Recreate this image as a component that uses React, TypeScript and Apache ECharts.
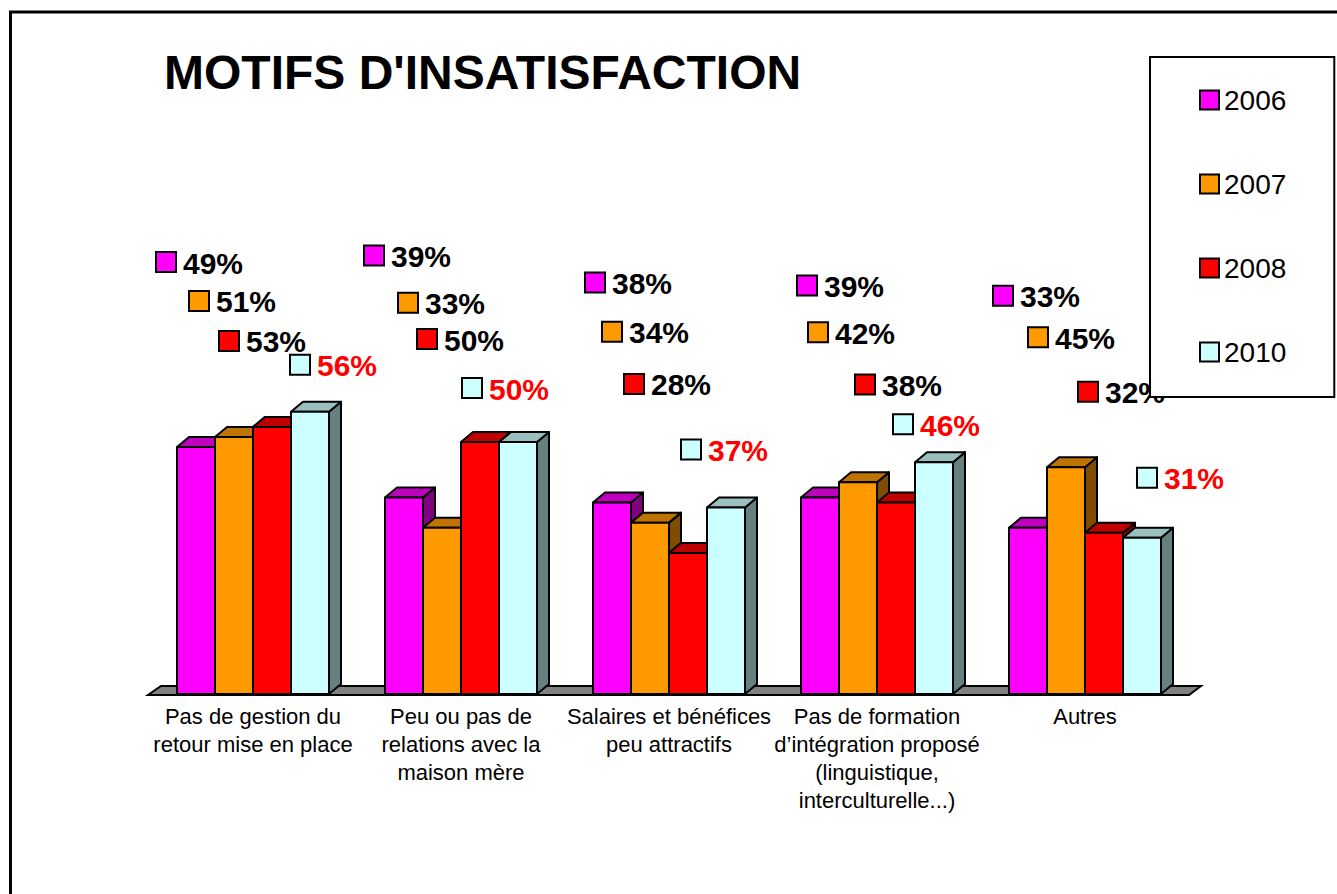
import React, { useEffect, useRef } from "react";
import * as echarts from "echarts";

const FONT = '"Liberation Sans", Arial, Helvetica, sans-serif';

const TITLE = "MOTIFS D'INSATISFACTION";
const CATEGORIES = [
  "Pas de gestion du\nretour mise en place",
  "Peu ou pas de\nrelations avec la\nmaison mère",
  "Salaires et bénéfices\npeu attractifs",
  "Pas de formation\nd’intégration proposé\n(linguistique,\ninterculturelle...)",
  "Autres",
];
const YEARS = ["2006", "2007", "2008", "2010"];
const V2006 = [49, 39, 38, 39, 33];
const V2007 = [51, 33, 34, 42, 45];
const V2008 = [53, 50, 28, 38, 32];
const V2010 = [56, 50, 37, 46, 31];
const VALUES = [V2006, V2007, V2008, V2010];

// label anchor offsets (px) from the top-front centre of each bar (manually placed labels)
const LABEL_DX = [
  [-30, -30, -17, -13, -25],
  [-35, -34, -38, -40, -28],
  [-43, -53, -54, -31, -16],
  [-10, -46, -35, -31, 5],
];
const LABEL_DY = [
  [-185, -242, -220, -212, -232],
  [-136, -225, -191, -150, -130],
  [-86, -103, -169, -118, -141],
  [-47, -54, -58, -38, -60],
];

const COLORS = ["#FF00FF", "#FF9900", "#FF0000", "#CCFFFF"];
const LABEL_COLORS = ["#000000", "#000000", "#000000", "#FF0000"];

const DEPTH_X = 12;
const DEPTH_Y = 10;
const GROUP_FRACTION = 152 / 208;

function shade(hex: string, f: number): string {
  const n = parseInt(hex.slice(1), 16);
  const r = Math.round(((n >> 16) & 255) * f);
  const g = Math.round(((n >> 8) & 255) * f);
  const b = Math.round((n & 255) * f);
  return `rgb(${r},${g},${b})`;
}

function makeBarRenderer(si: number) {
  return (params: any, api: any) => {
    const cat = api.value(0);
    const val = api.value(1);
    const base = api.coord([cat, 0]);
    const top = api.coord([cat, val]);
    const catW = api.size([1, 0])[0];
    const barW = (catW * GROUP_FRACTION) / YEARS.length;
    const x0 = base[0] - (catW * GROUP_FRACTION) / 2 + si * barW;
    const x1 = x0 + barW;
    const yb = base[1];
    const yt = top[1];
    const col = COLORS[si];
    const stroke = { stroke: "#000", lineWidth: 2, lineJoin: "round" };
    const side = {
      type: "polygon",
      shape: {
        points: [
          [x1, yt],
          [x1 + DEPTH_X, yt - DEPTH_Y],
          [x1 + DEPTH_X, yb - DEPTH_Y],
          [x1, yb],
        ],
      },
      style: { fill: shade(col, 0.5), ...stroke },
    };
    const topFace = {
      type: "polygon",
      shape: {
        points: [
          [x0, yt],
          [x1, yt],
          [x1 + DEPTH_X, yt - DEPTH_Y],
          [x0 + DEPTH_X, yt - DEPTH_Y],
        ],
      },
      style: { fill: shade(col, 0.75), ...stroke },
    };
    const front = {
      type: "rect",
      shape: { x: x0, y: yt, width: barW, height: yb - yt },
      style: { fill: col, ...stroke },
    };
    const j = params.dataIndex;
    const cx = (x0 + x1) / 2 + LABEL_DX[si][j];
    const cy = yt + LABEL_DY[si][j];
    const sq = {
      type: "rect",
      shape: { x: cx - 10, y: cy - 10, width: 20, height: 20 },
      style: { fill: col, stroke: "#000", lineWidth: 2 },
      z2: 10,
    };
    const txt = {
      type: "text",
      x: cx + 17,
      y: cy + 1,
      style: {
        text: `${val}%`,
        fill: LABEL_COLORS[si],
        fontSize: 30,
        fontWeight: "bold",
        fontFamily: FONT,
        align: "left",
        verticalAlign: "middle",
      },
      z2: 10,
    };
    return { type: "group", children: [side, topFace, front, sq, txt] };
  };
}

function renderFloor(params: any) {
  const cs = params.coordSys;
  const xl = cs.x - 1;
  const xr = cs.x + cs.width;
  const y = cs.y + cs.height + 1;
  return {
    type: "polygon",
    shape: {
      points: [
        [xl, y],
        [xr, y],
        [xr + DEPTH_X, y - DEPTH_Y + 1],
        [xl + DEPTH_X + 1, y - DEPTH_Y + 1],
      ],
    },
    style: { fill: "#808080", stroke: "#000", lineWidth: 2 },
  };
}

export default function App() {
  const ref = useRef<HTMLDivElement>(null);
  useEffect(() => {
    if (!ref.current) return;
    const chart = echarts.init(ref.current, undefined, { renderer: "svg" });
    const option: any = {
      animation: false,
      backgroundColor: "#ffffff",
      title: {
        text: TITLE,
        left: 159,
        top: 43,
        textStyle: { fontSize: 48, fontWeight: "bold", color: "#000", fontFamily: FONT },
      },
      grid: { left: 149, top: 190, width: 1040, height: 504, containLabel: false },
      xAxis: {
        type: "category",
        data: CATEGORIES,
        axisLine: { show: false },
        axisTick: { show: false },
        splitLine: { show: false },
        axisLabel: {
          interval: 0,
          margin: 8,
          fontSize: 22,
          lineHeight: 28,
          color: "#000",
          fontFamily: FONT,
          align: "center",
        },
      },
      yAxis: { type: "value", min: 0, max: 100, show: false },
      legend: {
        orient: "vertical",
        left: 1150,
        top: 57,
        data: YEARS.map((y, i) => ({
          name: y,
          icon: "rect",
          itemStyle: { color: COLORS[i], borderColor: "#000", borderWidth: 2 },
        })),
        itemWidth: 19,
        itemHeight: 19,
        itemGap: 56,
        padding: [29, 48, 31, 49],
        backgroundColor: "#ffffff",
        borderColor: "#000",
        borderWidth: 2,
        selectedMode: false,
        textStyle: { fontSize: 28, color: "#000", fontFamily: FONT },
        z: 20,
      },
      graphic: [
        {
          type: "rect",
          shape: { x: 10.5, y: 12, width: 1400, height: 1000 },
          style: { fill: "none", stroke: "#000", lineWidth: 3 },
          silent: true,
        },
      ],
      series: [
        {
          type: "custom",
          name: "floor",
          renderItem: renderFloor,
          data: [[0, 0]],
          encode: { x: 0, y: 1 },
          z: 1,
          silent: true,
        },
        ...YEARS.map((y, si) => ({
          type: "custom",
          name: y,
          renderItem: makeBarRenderer(si),
          data: VALUES[si].map((v, j) => [j, v]),
          encode: { x: 0, y: 1 },
          itemStyle: { color: COLORS[si] },
          clip: false,
          z: 2,
        })),
      ],
    };
    chart.setOption(option);
    return () => chart.dispose();
  }, []);
  return (
    <div
      ref={ref}
      style={{ position: "fixed", left: 0, top: 0, width: 1337, height: 894 }}
    />
  );
}
